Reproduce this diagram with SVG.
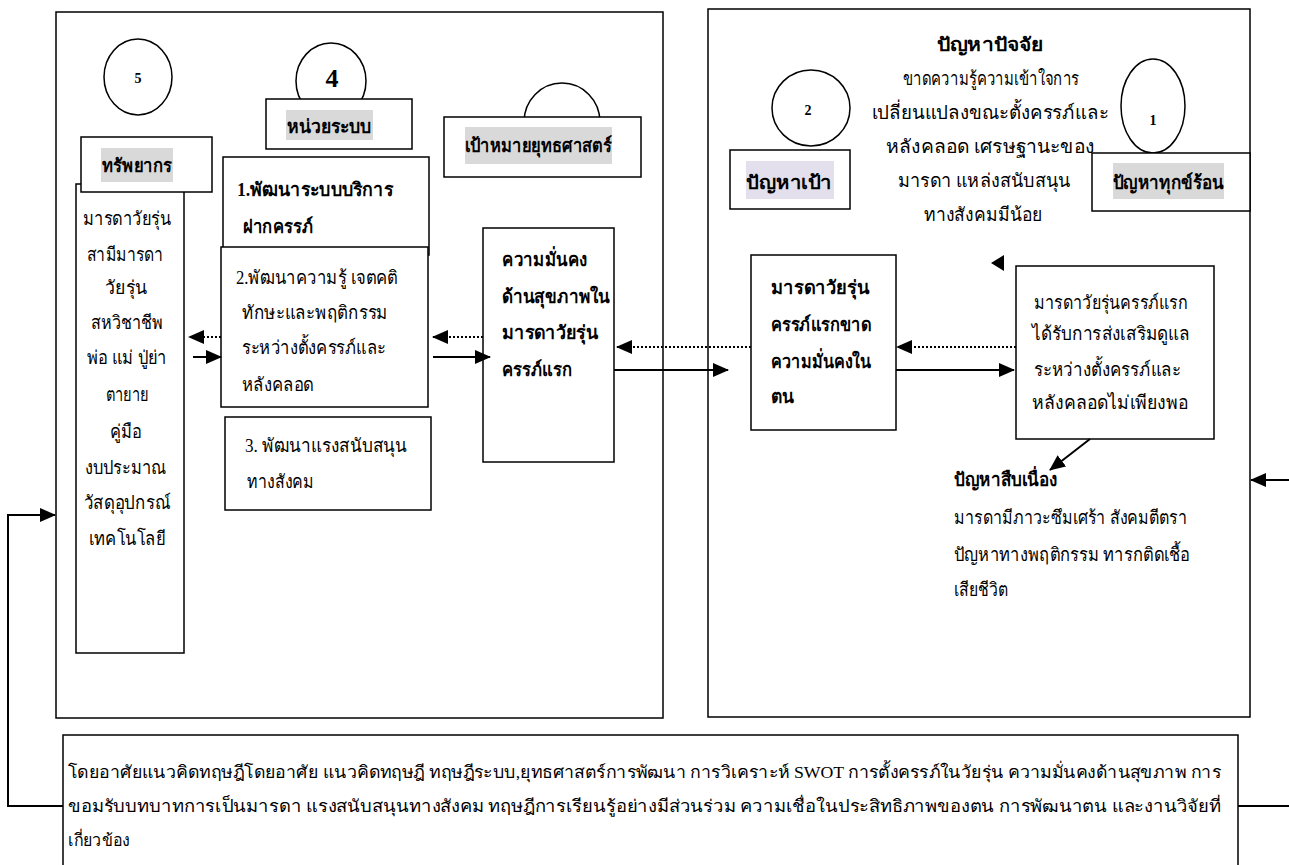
<svg xmlns="http://www.w3.org/2000/svg" width="1289" height="865" viewBox="0 0 1289 865">
<defs>
<marker id="ah" markerUnits="userSpaceOnUse" markerWidth="16" markerHeight="14" refX="15" refY="7" orient="auto"><path d="M0,0 L16,7 L0,14 z" fill="#000"/></marker>
<style>
.b{fill:#fff;stroke:#000;stroke-width:1.5}
.e{fill:#fff;stroke:#000;stroke-width:1.5}
.t{font-family:"Liberation Serif","DejaVu Serif",serif;font-size:19px;fill:#000}
.sm{font-size:17px}
.bd{font-weight:bold}
.c{text-anchor:middle}
.hl{fill:#d9d9d9}
.s{stroke:#000;stroke-width:2;fill:none}
.d{stroke:#000;stroke-width:2;stroke-dasharray:2 2;fill:none}
</style>
</defs>
<rect width="1289" height="865" fill="#fff"/>
<g id="frames">
<rect class="b" x="56" y="12" width="607" height="706"/>
<rect class="b" x="708" y="9" width="542" height="708"/>
<path class="b" d="M63,865 V735 H1238 V865" fill="#fff"/>
</g>
<g id="node5">
<ellipse class="e" cx="138" cy="77" rx="34" ry="38"/>
<text class="t bd c" x="138" y="83" style="font-size:14px">5</text>
</g>
<g id="node4">
<ellipse class="e" cx="331" cy="81" rx="35" ry="38"/>
<text class="t bd c" x="332" y="87" style="font-size:26px">4</text>
</g>
<g id="goal-circle">
<ellipse class="e" cx="562" cy="122" rx="38" ry="39"/>
</g>
<g id="resources-list">
<rect class="b" x="76" y="184" width="108" height="469"/>
<text class="t c" x="127" y="225" textLength="88" lengthAdjust="spacingAndGlyphs">มารดาวัยรุ่น</text>
<text class="t c" x="125" y="261" textLength="77" lengthAdjust="spacingAndGlyphs">สามีมารดา</text>
<text class="t c" x="126" y="294" textLength="42" lengthAdjust="spacingAndGlyphs">วัยรุ่น</text>
<text class="t c" x="127" y="329" textLength="73" lengthAdjust="spacingAndGlyphs">สหวิชาชีพ</text>
<text class="t c" x="127" y="364" textLength="80" lengthAdjust="spacingAndGlyphs">พ่อ แม่ ปู่ย่า</text>
<text class="t c" x="127" y="401" textLength="43" lengthAdjust="spacingAndGlyphs">ตายาย</text>
<text class="t c" x="126" y="438" textLength="32" lengthAdjust="spacingAndGlyphs">คู่มือ</text>
<text class="t c" x="126" y="474" textLength="82" lengthAdjust="spacingAndGlyphs">งบประมาณ</text>
<text class="t c" x="127" y="509" textLength="87" lengthAdjust="spacingAndGlyphs">วัสดุอุปกรณ์</text>
<text class="t c" x="127" y="545" textLength="77" lengthAdjust="spacingAndGlyphs">เทคโนโลยี</text>
</g>
<g id="resources">
<rect class="b" x="81" y="137" width="131" height="55"/>
<rect class="hl" x="101" y="148" width="72" height="34"/>
<text class="t bd c" x="137" y="172" textLength="70" lengthAdjust="spacingAndGlyphs">ทรัพยากร</text>
</g>
<g id="system-unit">
<rect class="b" x="266" y="99" width="146" height="50"/>
<rect class="hl" x="286" y="110" width="87" height="30"/>
<text class="t bd c" x="329" y="133" textLength="85" lengthAdjust="spacingAndGlyphs">หน่วยระบบ</text>
</g>
<g id="box1">
<rect class="b" x="223" y="157" width="206" height="98"/>
<text class="t bd" x="237" y="196" textLength="156" lengthAdjust="spacingAndGlyphs">1.พัฒนาระบบบริการ</text>
<text class="t bd" x="243" y="233" textLength="70" lengthAdjust="spacingAndGlyphs">ฝากครรภ์</text>
</g>
<g id="box2">
<rect class="b" x="221" y="247" width="207" height="160"/>
<text class="t" x="236" y="284" textLength="162" lengthAdjust="spacingAndGlyphs">2.พัฒนาความรู้ เจตคติ</text>
<text class="t" x="242" y="319" textLength="146" lengthAdjust="spacingAndGlyphs">ทักษะและพฤติกรรม</text>
<text class="t" x="242" y="354" textLength="144" lengthAdjust="spacingAndGlyphs">ระหว่างตั้งครรภ์และ</text>
<text class="t" x="242" y="391" textLength="72" lengthAdjust="spacingAndGlyphs">หลังคลอด</text>
</g>
<g id="box3">
<rect class="b" x="225" y="417" width="206" height="93"/>
<text class="t" x="245" y="452" textLength="162" lengthAdjust="spacingAndGlyphs">3. พัฒนาแรงสนับสนุน</text>
<text class="t" x="247" y="488" textLength="67" lengthAdjust="spacingAndGlyphs">ทางสังคม</text>
</g>
<g id="strategic-goal">
<rect class="b" x="444" y="117" width="197" height="60"/>
<rect class="hl" x="465" y="127" width="147" height="37"/>
<text class="t bd c" x="538" y="152" textLength="147" lengthAdjust="spacingAndGlyphs">เป้าหมายยุทธศาสตร์</text>
</g>
<g id="health-security">
<rect class="b" x="483" y="228" width="131" height="234"/>
<text class="t bd" x="502" y="266" textLength="85" lengthAdjust="spacingAndGlyphs">ความมั่นคง</text>
<text class="t bd" x="502" y="303" textLength="108" lengthAdjust="spacingAndGlyphs">ด้านสุขภาพใน</text>
<text class="t bd" x="502" y="339" textLength="96" lengthAdjust="spacingAndGlyphs">มารดาวัยรุ่น</text>
<text class="t bd" x="502" y="376" textLength="70" lengthAdjust="spacingAndGlyphs">ครรภ์แรก</text>
</g>
<g id="causes">
<text class="t bd c" x="990" y="51" textLength="107" lengthAdjust="spacingAndGlyphs">ปัญหาปัจจัย</text>
<text class="t c" x="991" y="85" textLength="176" lengthAdjust="spacingAndGlyphs">ขาดความรู้ความเข้าใจการ</text>
<text class="t c" x="990" y="119" textLength="237" lengthAdjust="spacingAndGlyphs">เปลี่ยนแปลงขณะตั้งครรภ์และ</text>
<text class="t c" x="990" y="153" textLength="208" lengthAdjust="spacingAndGlyphs">หลังคลอด เศรษฐานะของ</text>
<text class="t c" x="984" y="187" textLength="173" lengthAdjust="spacingAndGlyphs">มารดา แหล่งสนับสนุน</text>
<text class="t c" x="983" y="221" textLength="118" lengthAdjust="spacingAndGlyphs">ทางสังคมมีน้อย</text>
</g>
<g id="node2">
<ellipse class="e" cx="811" cy="108" rx="39" ry="38"/>
<text class="t bd c" x="808" y="115" style="font-size:14px">2</text>
</g>
<g id="target-problem">
<rect class="b" x="730" y="150" width="120" height="59"/>
<rect x="746" y="161" width="88" height="38" fill="#e4dfec"/>
<text class="t bd c" x="789" y="189" textLength="86" lengthAdjust="spacingAndGlyphs">ปัญหาเป้า</text>
</g>
<g id="node1">
<ellipse class="e" cx="1153" cy="106" rx="32" ry="47"/>
<text class="t bd c" x="1153" y="125" style="font-size:14px">1</text>
</g>
<g id="suffering-problem">
<rect class="b" x="1092" y="153" width="158" height="58"/>
<rect class="hl" x="1113" y="163" width="111" height="36"/>
<text class="t bd c" x="1168" y="189" textLength="111" lengthAdjust="spacingAndGlyphs">ปัญหาทุกข์ร้อน</text>
</g>
<g id="lacking-security">
<rect class="b" x="751" y="255" width="145" height="175"/>
<text class="t bd" x="771" y="294" textLength="98" lengthAdjust="spacingAndGlyphs">มารดาวัยรุ่น</text>
<text class="t bd" x="771" y="331" textLength="100" lengthAdjust="spacingAndGlyphs">ครรภ์แรกขาด</text>
<text class="t bd" x="771" y="368" textLength="100" lengthAdjust="spacingAndGlyphs">ความมั่นคงใน</text>
<text class="t bd" x="771" y="403" textLength="23" lengthAdjust="spacingAndGlyphs">ตน</text>
</g>
<g id="insufficient-care">
<rect class="b" x="1016" y="266" width="198" height="173"/>
<text class="t" x="1034" y="309" textLength="154" lengthAdjust="spacingAndGlyphs">มารดาวัยรุ่นครรภ์แรก</text>
<text class="t" x="1032" y="340" textLength="158" lengthAdjust="spacingAndGlyphs">ได้รับการส่งเสริมดูแล</text>
<text class="t" x="1034" y="376" textLength="147" lengthAdjust="spacingAndGlyphs">ระหว่างตั้งครรภ์และ</text>
<text class="t" x="1032" y="409" textLength="156" lengthAdjust="spacingAndGlyphs">หลังคลอดไม่เพียงพอ</text>
</g>
<g id="consequences">
<text class="t bd" x="954" y="486" textLength="103" lengthAdjust="spacingAndGlyphs">ปัญหาสืบเนื่อง</text>
<text class="t" x="954" y="524" textLength="233" lengthAdjust="spacingAndGlyphs">มารดามีภาวะซึมเศร้า สังคมตีตรา</text>
<text class="t" x="954" y="561" textLength="236" lengthAdjust="spacingAndGlyphs">ปัญหาทางพฤติกรรม ทารกติดเชื้อ</text>
<text class="t" x="954" y="596" textLength="54" lengthAdjust="spacingAndGlyphs">เสียชีวิต</text>
</g>
<g id="theory">
<text class="t sm" x="68" y="778" textLength="1153" lengthAdjust="spacingAndGlyphs">โดยอาศัยแนวคิดทฤษฎีโดยอาศัย แนวคิดทฤษฎี ทฤษฎีระบบ,ยุทธศาสตร์การพัฒนา  การวิเคราะห์ SWOT การตั้งครรภ์ในวัยรุ่น ความมั่นคงด้านสุขภาพ การ</text>
<text class="t sm" x="68" y="812" textLength="1153" lengthAdjust="spacingAndGlyphs">ขอมรับบทบาทการเป็นมารดา  แรงสนับสนุนทางสังคม  ทฤษฎีการเรียนรู้อย่างมีส่วนร่วม ความเชื่อในประสิทธิภาพของตน การพัฒนาตน และงานวิจัยที่</text>
<text class="t sm" x="68" y="846" textLength="62" lengthAdjust="spacingAndGlyphs">เกี่ยวข้อง</text>
</g>
<g id="connectors">
<polygon points="991,263 1004,255 1004,271" fill="#000"/>
<line class="d" x1="221" y1="337" x2="189" y2="337" marker-end="url(#ah)"/>
<line class="s" x1="193" y1="357" x2="221" y2="357" marker-end="url(#ah)"/>
<line class="d" x1="483" y1="337" x2="433" y2="337" marker-end="url(#ah)"/>
<line class="s" x1="433" y1="357" x2="490" y2="357" marker-end="url(#ah)"/>
<line class="d" x1="751" y1="347" x2="617" y2="347" marker-end="url(#ah)"/>
<line class="s" x1="614" y1="370" x2="728" y2="370" marker-end="url(#ah)"/>
<line class="d" x1="1016" y1="347" x2="897" y2="347" marker-end="url(#ah)"/>
<line class="s" x1="896" y1="370" x2="1014" y2="370" marker-end="url(#ah)"/>
<line class="s" x1="1090" y1="439" x2="1050" y2="470" marker-end="url(#ah)"/>
<line class="s" x1="1289" y1="480" x2="1251" y2="480" marker-end="url(#ah)"/>
<polyline class="s" points="63,806 8,806 8,515 55,515" marker-end="url(#ah)"/>
<line class="s" x1="1238" y1="806" x2="1289" y2="806"/>
</g>
</svg>
